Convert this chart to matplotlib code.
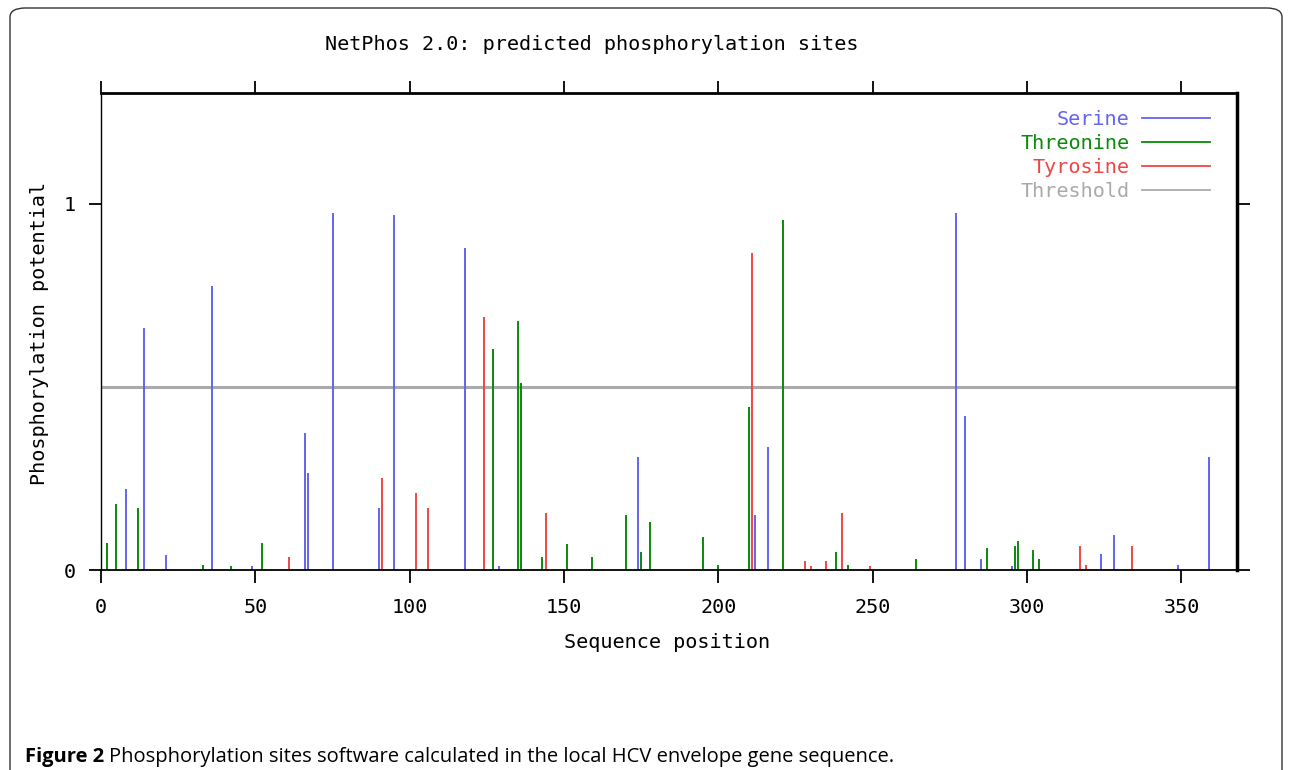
import matplotlib
matplotlib.use("Agg")
import matplotlib.pyplot as plt
from matplotlib.lines import Line2D
from matplotlib.patches import FancyBboxPatch

# NetPhos 2.0 predictions (position, score)
serine_pos = [8, 14, 21, 36, 49, 66, 67, 75, 90, 95, 118, 129, 174, 212,
              216, 277, 280, 285, 295, 324, 328, 349, 359]
serine_val = [0.22, 0.66, 0.04, 0.775, 0.01, 0.375, 0.265, 0.975, 0.17, 0.97,
              0.88, 0.01, 0.31, 0.15, 0.335, 0.975, 0.42, 0.03, 0.01, 0.045,
              0.095, 0.015, 0.31]

threonine_pos = [2, 5, 12, 33, 42, 52, 127, 135, 136, 143, 151, 159, 170, 175,
                 178, 195, 200, 210, 221, 238, 242, 264, 287, 296, 297, 302, 304]
threonine_val = [0.075, 0.18, 0.17, 0.015, 0.01, 0.075, 0.605, 0.68, 0.51,
                 0.035, 0.07, 0.035, 0.15, 0.05, 0.13, 0.09, 0.015, 0.445,
                 0.955, 0.05, 0.015, 0.03, 0.06, 0.065, 0.08, 0.055, 0.03]

tyrosine_pos = [61, 91, 102, 106, 124, 144, 211, 228, 230, 235, 240, 249,
                317, 319, 334]
tyrosine_val = [0.035, 0.25, 0.21, 0.17, 0.69, 0.155, 0.865, 0.025, 0.01,
                0.025, 0.155, 0.012, 0.065, 0.015, 0.065]

threshold = 0.5
x_ticks = [0, 50, 100, 150, 200, 250, 300, 350]
y_ticks = [0, 1]

c_ser = '#6464ee'
c_thr = '#0a8a0a'
c_tyr = '#ee4646'
c_thresh = '#aaaaaa'

mono = 'DejaVu Sans Mono'
fs = 14.5

fig = plt.figure(figsize=(12.9, 7.7), dpi=100)
ax = fig.add_axes([101 / 1290, 1 - 570 / 770, 1136 / 1290, 477 / 770])

ax.axhline(threshold, color=c_thresh, lw=2.2, zorder=1)
ax.vlines(serine_pos, 0, serine_val, color=c_ser, lw=1.4, zorder=2)
ax.vlines(threonine_pos, 0, threonine_val, color=c_thr, lw=1.4, zorder=2)
ax.vlines(tyrosine_pos, 0, tyrosine_val, color=c_tyr, lw=1.4, zorder=2)

ax.set_xlim(0, 368)
ax.set_ylim(0, 1.303)
ax.set_xticks(x_ticks)
ax.set_xticklabels([str(t) for t in x_ticks], family=mono, fontsize=fs)
ax.set_yticks(y_ticks)
ax.set_yticklabels([str(t) for t in y_ticks], family=mono, fontsize=fs)
ax.tick_params(axis='x', direction='out', length=9, width=1.3, top=True,
               pad=11)
ax.tick_params(axis='y', direction='out', length=9, width=1.3, right=True,
               pad=9)

ax.spines['left'].set_linewidth(1.0)
ax.spines['bottom'].set_linewidth(1.3)
ax.spines['top'].set_linewidth(2.0)
ax.spines['right'].set_linewidth(2.5)

handles = [Line2D([], [], color=c_ser, lw=1.3),
           Line2D([], [], color=c_thr, lw=1.3),
           Line2D([], [], color=c_tyr, lw=1.3),
           Line2D([], [], color=c_thresh, lw=1.3)]
labels = ['Serine', 'Threonine', 'Tyrosine', 'Threshold']
leg = ax.legend(handles, labels, loc='upper right',
                bbox_to_anchor=(0.976, 0.964), frameon=False,
                markerfirst=False, handlelength=3.35, handletextpad=0.65,
                labelspacing=0.25, borderpad=0, borderaxespad=0,
                prop={'family': mono, 'size': fs})
for txt, col in zip(leg.get_texts(), [c_ser, c_thr, c_tyr, c_thresh]):
    txt.set_color(col)

fig.text(592 / 1290, 1 - 45 / 770, 'NetPhos 2.0: predicted phosphorylation sites',
         family=mono, fontsize=fs, ha='center', va='center')
fig.text(667 / 1290, 1 - 643 / 770, 'Sequence position',
         family=mono, fontsize=fs, ha='center', va='center')
fig.text(40 / 1290, 1 - 333 / 770, 'Phosphorylation potential',
         family=mono, fontsize=fs, ha='center', va='center', rotation=90)

# rounded frame around the figure panel
frame = FancyBboxPatch((10 / 1290, -0.05), 1272 / 1290, 1 - 8 / 770 + 0.05,
                       boxstyle='round,pad=0,rounding_size=0.012',
                       transform=fig.transFigure, fill=False,
                       edgecolor='#333333', lw=1.0, clip_on=False)
fig.patches.append(frame)

# caption: bold lead-in followed by regular text
cap_y = 1 - 762 / 770
t1 = fig.text(25 / 1290, cap_y, 'Figure 2', family='Open Sans',
              fontweight='bold', fontsize=14.5, va='baseline')
renderer = fig.canvas.get_renderer()
bb = t1.get_window_extent(renderer)
fig.text((bb.x1 + 5) / 1290, cap_y,
         'Phosphorylation sites software calculated in the local HCV envelope gene sequence.',
         family='Open Sans', fontsize=14.5, va='baseline')

fig.savefig('out.png', dpi=100)
